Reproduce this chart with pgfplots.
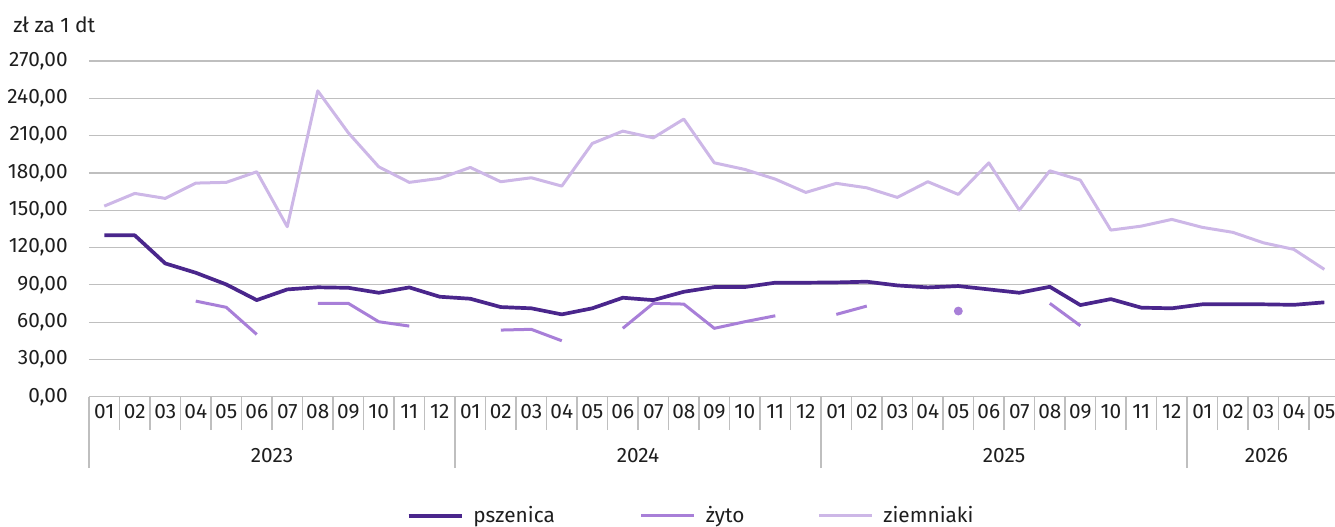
\documentclass[border=0pt]{standalone}
\usepackage{pgfplots}
\pgfplotsset{compat=1.18}
\usepackage{fontspec}
\setmainfont{Fira Sans}
\definecolor{cPsz}{RGB}{74,38,140}
\definecolor{cZyto}{RGB}{168,127,216}
\definecolor{cZiem}{RGB}{205,183,231}
\definecolor{cGrid}{RGB}{191,191,191}
\definecolor{cTxt}{RGB}{30,30,30}
\begin{document}
\begin{tikzpicture}
\begin{axis}[
  name=ax,
  scale only axis,
  width=623pt, height=167.85pt,
  xmin=-0.5, xmax=40.35,
  ymin=0, ymax=270,
  clip=false,
  axis x line*=bottom,
  axis y line*=left,
  y axis line style={draw=none},
  x axis line style={cGrid, line width=0.6pt, -},
  ymajorgrids,
  grid style={cGrid, line width=0.6pt},
  ytick={0,30,...,270},
  yticklabel style={anchor=east, inner sep=0pt, xshift=-10.5pt, font=\fontsize{10.4}{12}\selectfont, text=cTxt},
  /pgf/number format/.cd, fixed, fixed zerofill, precision=2, use comma, 1000 sep={}, assume math mode=true,
  /pgfplots/.cd,
  xtick={0,...,40},
  xticklabels={01,02,03,04,05,06,07,08,09,10,11,12,01,02,03,04,05,06,07,08,09,10,11,12,01,02,03,04,05,06,07,08,09,10,11,12,01,02,03,04,05},
  xticklabel style={anchor=center, yshift=-7.6pt, inner sep=0pt, font=\fontsize{10.4}{12}\selectfont, text=cTxt},
  major tick length=0pt,
  minor xtick={-0.5,0.5,...,40.5},
  minor tick length=16.7pt,
  tick align=outside,
  tick style={cGrid, line width=0.6pt},
  extra x ticks={-0.5,11.5,23.5,35.5},
  extra x tick labels={},
  extra x tick style={major tick length=35.7pt, tick style={cGrid, line width=0.6pt}},
  unbounded coords=jump,
  legend columns=3,
  legend style={at={(0.4824,0)}, anchor=center, yshift=-59.5pt, draw=none, fill=none,
    font=\fontsize{10.4}{12}\selectfont, text=cTxt,
    nodes={inner sep=0pt},
    /tikz/every odd column/.append style={column sep=5pt},
    /tikz/column 2/.append style={column sep=42.5pt},
    /tikz/column 4/.append style={column sep=36.5pt}},
  legend image code/.code={\draw[#1] (0pt,0pt) -- (26.5pt,0pt);},
]
\addplot[cPsz, line width=1.85pt, line join=round] coordinates {
(0,129.8) (1,129.8) (2,107.2) (3,99.7) (4,90.3) (5,77.7) (6,86.3) (7,88.0) (8,87.6) (9,83.6) (10,87.9) (11,80.4)
(12,78.8) (13,72.1) (14,71.1) (15,66.2) (16,71.1) (17,79.6) (18,77.7) (19,84.4) (20,88.2) (21,88.2) (22,91.7) (23,91.7)
(24,91.9) (25,92.5) (26,89.5) (27,87.9) (28,89.0) (29,86.3) (30,83.6) (31,88.4) (32,73.7) (33,78.5) (34,71.6) (35,71.1)
(36,74.3) (37,74.3) (38,74.3) (39,73.9) (40,75.9)
};
\addlegendentry{pszenica}
\addplot[cZyto, line width=1.5pt, line join=round] coordinates {
(0,nan) (1,nan) (2,nan) (3,76.9) (4,71.9) (5,50.1) (6,nan) (7,75.1) (8,75.1) (9,60.3) (10,56.8) (11,nan)
(12,nan) (13,53.6) (14,54.2) (15,45.0) (16,nan) (17,55.0) (18,75.1) (19,74.5) (20,55.0) (21,60.3) (22,65.1) (23,nan)
(24,66.2) (25,72.9) (26,nan) (27,nan) (28,68.9) (29,nan) (30,nan) (31,75.1) (32,57.1) (33,nan) (34,nan) (35,nan)
(36,nan) (37,nan) (38,nan) (39,nan) (40,nan)
};
\addlegendentry{żyto}
\addplot[cZiem, line width=1.5pt, line join=round] coordinates {
(0,153.3) (1,163.5) (2,159.5) (3,171.8) (4,172.4) (5,180.9) (6,136.7) (7,246.0) (8,212.3) (9,184.9) (10,172.4) (11,175.6)
(12,184.4) (13,172.9) (14,176.1) (15,169.4) (16,203.7) (17,213.6) (18,208.2) (19,223.3) (20,188.1) (21,182.8) (22,175.0) (23,164.3)
(24,171.6) (25,168.0) (26,160.3) (27,172.9) (28,162.7) (29,188.1) (30,150.1) (31,181.7) (32,174.2) (33,134.0) (34,137.2) (35,142.6)
(36,136.2) (37,132.2) (38,123.8) (39,118.5) (40,102.4)
};
\addlegendentry{ziemniaki}
\addplot[cZyto, only marks, mark=*, mark size=2pt, forget plot] coordinates {(28,68.9)};
\node[font=\fontsize{10.4}{12}\selectfont, text=cTxt] at (axis cs:5.5,0) [yshift=-29.2pt] {2023};
\node[font=\fontsize{10.4}{12}\selectfont, text=cTxt] at (axis cs:17.5,0) [yshift=-29.2pt] {2024};
\node[font=\fontsize{10.4}{12}\selectfont, text=cTxt] at (axis cs:29.5,0) [yshift=-29.2pt] {2025};
\node[font=\fontsize{10.4}{12}\selectfont, text=cTxt] at (axis cs:38.1,0) [yshift=-29.2pt] {2026};
\node[font=\fontsize{10.5}{12}\selectfont, text=cTxt, anchor=west, inner sep=0pt] at (rel axis cs:0,1) [xshift=-38pt, yshift=18pt] {zł za 1 dt};
\end{axis}
\pgfresetboundingbox
\path ([xshift=-44.5pt,yshift=-64.65pt]ax.south west) rectangle ([yshift=30.5pt]ax.north east);
\end{tikzpicture}
\end{document}
